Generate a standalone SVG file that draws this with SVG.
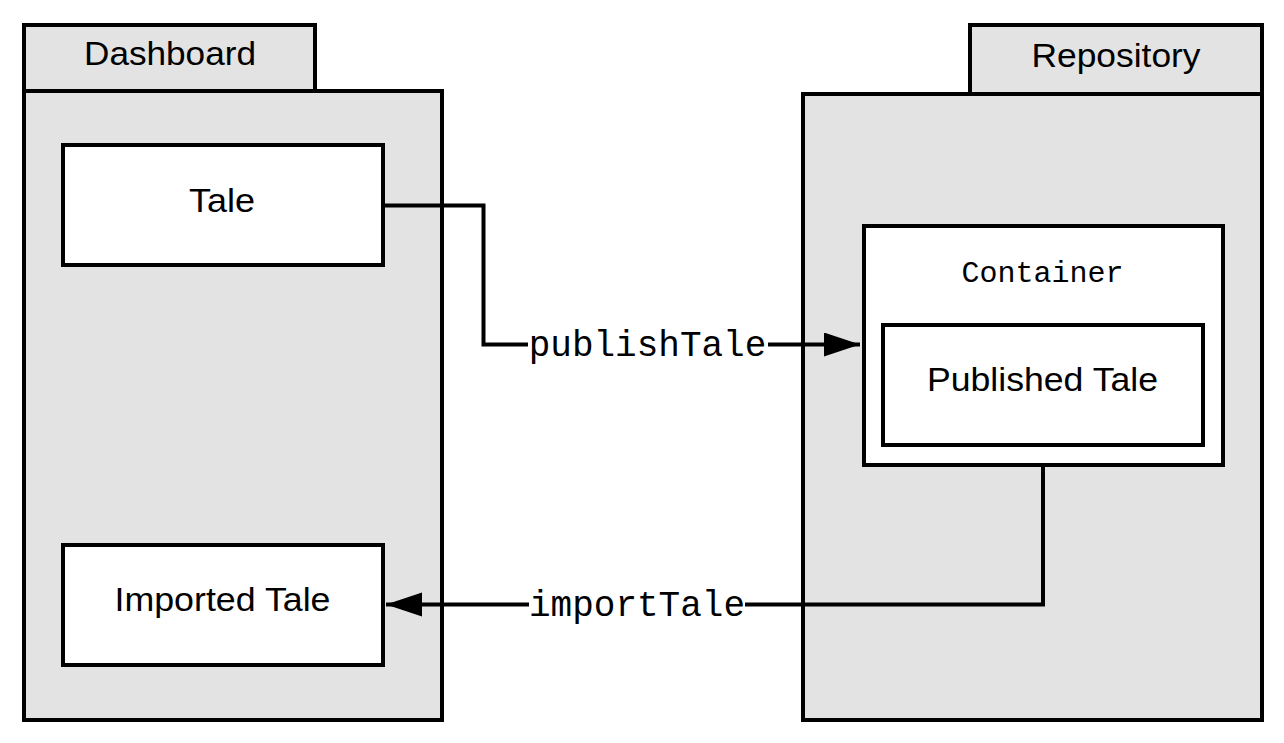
<svg xmlns="http://www.w3.org/2000/svg" width="1284" height="743" viewBox="0 0 1284 743">
<defs>
<style>
.pkg{fill:#e3e3e3;stroke:#000;stroke-width:4}
.box{fill:#fff;stroke:#000;stroke-width:4}
.sans{font-family:"Liberation Sans",Arial,sans-serif;font-size:34px;fill:#000;text-anchor:middle}
.mono{font-family:"Liberation Mono","Courier New",monospace;fill:#000;text-anchor:middle}
.conn{fill:none;stroke:#000;stroke-width:4}
</style>
<marker id="arrow" markerUnits="userSpaceOnUse" markerWidth="40" markerHeight="30" refX="36" refY="12" orient="auto">
<path d="M0,0 L36,12 L0,24 Z" fill="#000"/>
</marker>
</defs>
<rect width="1284" height="743" fill="#fff"/>
<g id="dashboard">
<rect class="pkg" x="24" y="25" width="291" height="66"/>
<rect class="pkg" x="24" y="91" width="418" height="629"/>
<text class="sans" x="170" y="65" textLength="172" lengthAdjust="spacingAndGlyphs">Dashboard</text>
</g>
<g id="repository">
<rect class="pkg" x="970" y="25" width="292" height="69"/>
<rect class="pkg" x="803" y="94" width="459" height="626"/>
<text class="sans" x="1116" y="67" textLength="169" lengthAdjust="spacingAndGlyphs">Repository</text>
</g>
<g id="tale">
<rect class="box" x="63" y="145" width="320" height="120"/>
<text class="sans" x="222" y="212" textLength="66" lengthAdjust="spacingAndGlyphs">Tale</text>
</g>
<g id="imported-tale">
<rect class="box" x="63" y="545" width="320" height="120"/>
<text class="sans" x="222.5" y="611" textLength="216" lengthAdjust="spacingAndGlyphs">Imported Tale</text>
</g>
<g id="container">
<rect class="box" x="864" y="226" width="359" height="239"/>
<text class="mono" x="1042.5" y="282" font-size="30">Container</text>
</g>
<g id="published-tale">
<rect class="box" x="883" y="325" width="320" height="120"/>
<text class="sans" x="1042.5" y="391" textLength="231" lengthAdjust="spacingAndGlyphs">Published Tale</text>
</g>
<g id="connectors">
<path class="conn" d="M383,205.5 H483.5 V344.5 H860" marker-end="url(#arrow)"/>
<rect x="528" y="326" width="240" height="40" fill="#fff"/>
<text class="mono" x="647.5" y="356" font-size="36">publishTale</text>
<path class="conn" d="M1043,465 V604.5 H386" marker-end="url(#arrow)"/>
<rect x="529" y="586" width="216" height="40" fill="#fff"/>
<text class="mono" x="637" y="616" font-size="36">importTale</text>
</g>
</svg>
